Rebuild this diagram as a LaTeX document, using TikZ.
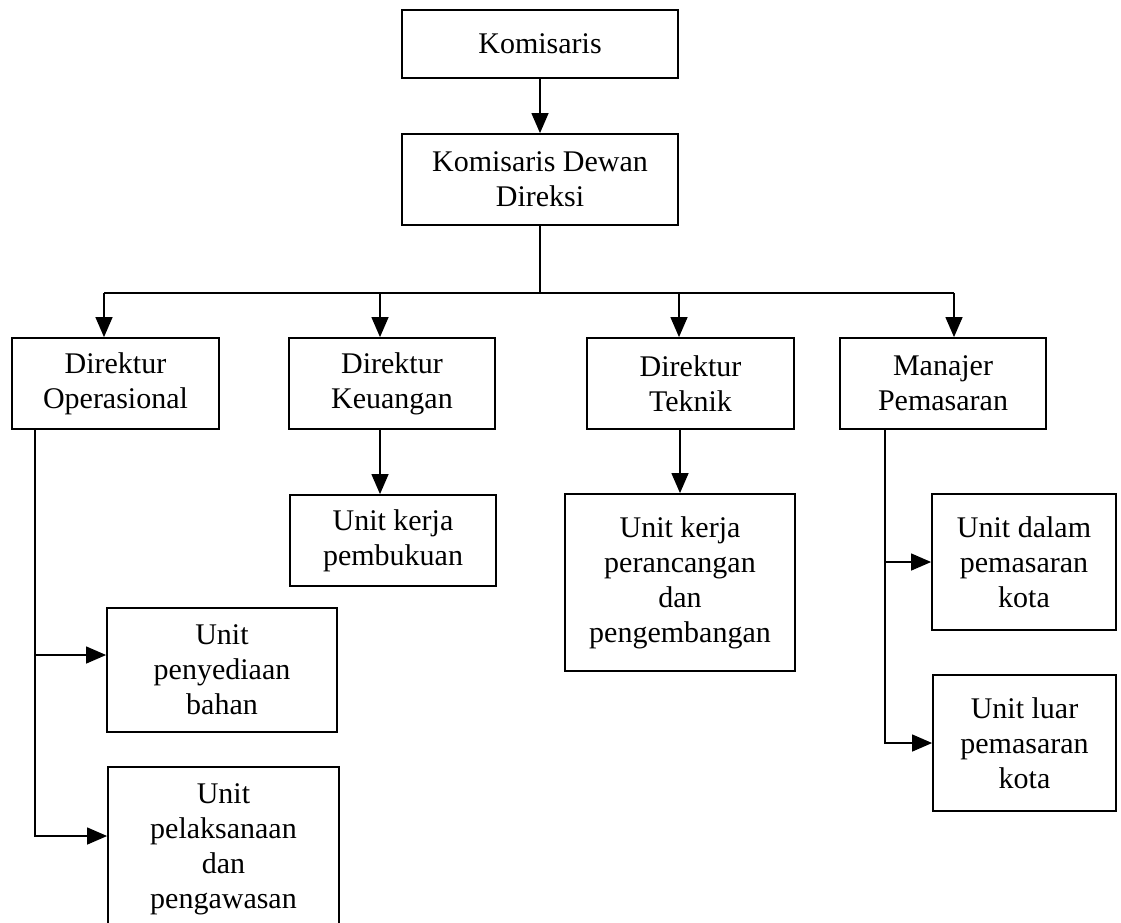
\documentclass[tikz,border=0pt]{standalone}
\usepackage{fontspec}
\setmainfont{Liberation Serif}
\usetikzlibrary{arrows.meta,calc}
\begin{document}
\begin{tikzpicture}[x=1pt,y=-1pt,
  box/.style={draw,line width=1.8pt,rectangle,align=center,inner sep=0pt,
    font=\fontsize{30}{35}\selectfont},
  conn/.style={line width=1.3pt},
  arr/.style={conn,-{Triangle[length=20pt,width=17pt]}}]
\useasboundingbox (0,0) rectangle (1121,922);
% boxes
\node[box,minimum width=276pt,minimum height=68pt] (kom) at (540,44) {Komisaris};
\node[box,minimum width=276pt,minimum height=91pt] (kdd) at (540,179.5) {Komisaris Dewan\\Direksi};
\node[box,minimum width=207pt,minimum height=91pt] (dop) at (115.5,383.5) {Direktur\\Operasional};
\node[box,minimum width=206pt,minimum height=91pt] (dkeu) at (392,383.5) {Direktur\\Keuangan};
\node[box,minimum width=207pt,minimum height=91pt] (dtek) at (690.5,383.5) {Direktur\\Teknik};
\node[box,minimum width=206pt,minimum height=91pt] (man) at (943,383.5) {Manajer\\Pemasaran};
\node[box,minimum width=206pt,minimum height=91pt] (ukp) at (393,540.5) {Unit kerja\\pembukuan};
\node[box,minimum width=230pt,minimum height=177pt] (ukr) at (680,582.5) {Unit kerja\\perancangan\\dan\\pengembangan};
\node[box,minimum width=184pt,minimum height=136pt] (udk) at (1024,562) {Unit dalam\\pemasaran\\kota};
\node[box,minimum width=183pt,minimum height=136pt] (ulk) at (1024.5,743) {Unit luar\\pemasaran\\kota};
\node[box,minimum width=230pt,minimum height=124pt] (upb) at (222,670) {Unit\\penyediaan\\bahan};
\node[box,minimum width=231pt,minimum height=165pt] (upl) at (223.5,849.5) {Unit\\pelaksanaan\\dan\\pengawasan};
% connectors
\draw[arr] (kom.south) -- (kdd.north);
\coordinate (bus) at (540,293);
\coordinate (t1) at ([xshift=-11.5pt]dop.north);
\coordinate (t2) at ([xshift=-12pt]dkeu.north);
\coordinate (t3) at ([xshift=-11.5pt]dtek.north);
\coordinate (t4) at ([xshift=11pt]man.north);
\draw[conn] (kdd.south) -- (kdd.south |- bus);
\draw[conn] (t1 |- bus) -- (t4 |- bus);
\draw[arr] (t1 |- bus) -- (t1);
\draw[arr] (t2 |- bus) -- (t2);
\draw[arr] (t3 |- bus) -- (t3);
\draw[arr] (t4 |- bus) -- (t4);
% Direktur Keuangan
\draw[arr] ([xshift=-12pt]dkeu.south) -- ([xshift=-13pt]ukp.north);
% Direktur Teknik
\draw[arr] (ukr.north |- dtek.south) -- (ukr.north);
% Direktur Operasional
\coordinate (op) at ([xshift=24pt]dop.south west);
\draw[arr] (op) |- ([yshift=13.5pt]upl.west);
\draw[arr] (op) |- ([yshift=15pt]upb.west);
% Manajer Pemasaran
\coordinate (mp) at ([xshift=46pt]man.south west);
\draw[arr] (mp) |- (udk.west);
\draw[arr] (mp) |- (ulk.west);
\end{tikzpicture}
\end{document}
